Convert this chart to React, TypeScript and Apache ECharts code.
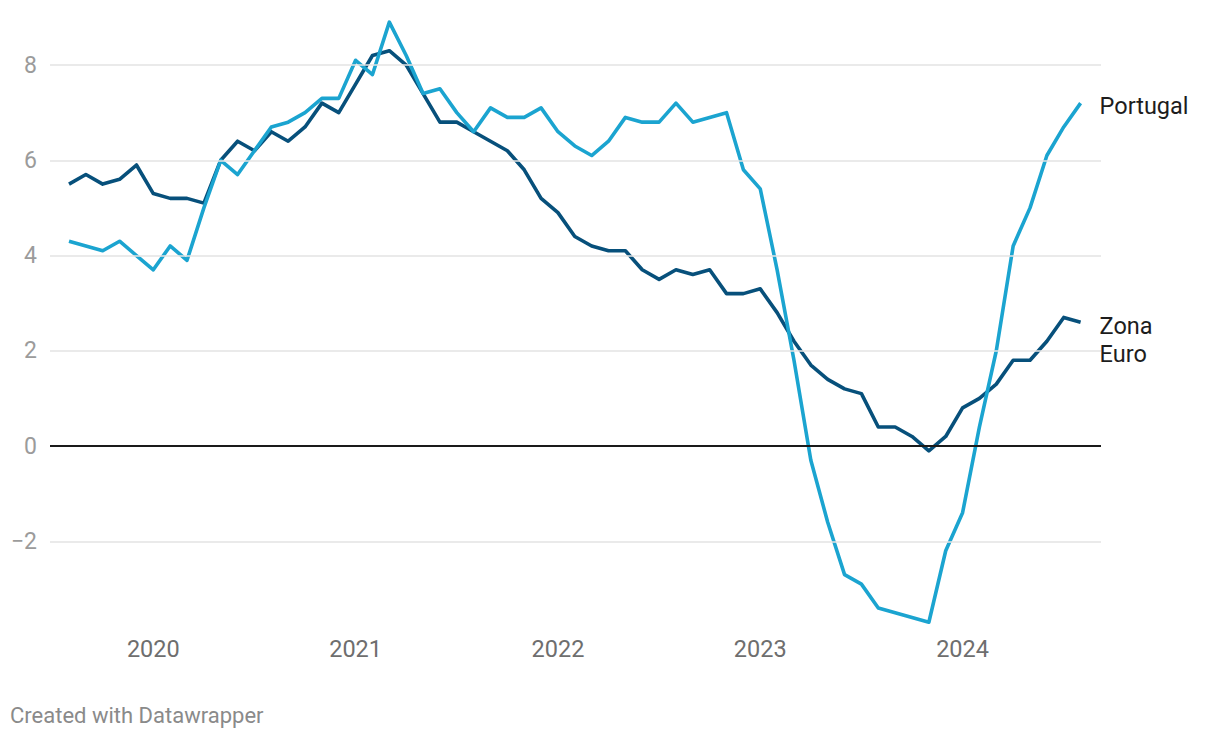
import React, { useEffect, useRef } from "react";
import * as echarts from "echarts";

// Monthly observations, Aug 2019 .. Aug 2024 (index 0 = Aug 2019)
const portugal: number[] = [
  4.3, 4.2, 4.1, 4.3, 4.0, 3.7, 4.2, 3.9, 5.0, 6.0,
  5.7, 6.2, 6.7, 6.8, 7.0, 7.3, 7.3, 8.1, 7.8, 8.9,
  8.2, 7.4, 7.5, 7.0, 6.6, 7.1, 6.9, 6.9, 7.1, 6.6,
  6.3, 6.1, 6.4, 6.9, 6.8, 6.8, 7.2, 6.8, 6.9, 7.0,
  5.8, 5.4, 3.7, 1.8, -0.3, -1.6, -2.7, -2.9, -3.4, -3.5,
  -3.6, -3.7, -2.2, -1.4, 0.4, 2.0, 4.2, 5.0, 6.1, 6.7,
  7.2,
];

const zonaEuro: number[] = [
  5.5, 5.7, 5.5, 5.6, 5.9, 5.3, 5.2, 5.2, 5.1, 6.0,
  6.4, 6.2, 6.6, 6.4, 6.7, 7.2, 7.0, 7.6, 8.2, 8.3,
  8.0, 7.4, 6.8, 6.8, 6.6, 6.4, 6.2, 5.8, 5.2, 4.9,
  4.4, 4.2, 4.1, 4.1, 3.7, 3.5, 3.7, 3.6, 3.7, 3.2,
  3.2, 3.3, 2.8, 2.2, 1.7, 1.4, 1.2, 1.1, 0.4, 0.4,
  0.2, -0.1, 0.2, 0.8, 1.0, 1.3, 1.8, 1.8, 2.2, 2.7,
  2.6,
];

const yearLabels: string[] = ["2020", "2021", "2022", "2023", "2024"];
const yearTickIndex: number[] = [5, 17, 29, 41, 53];
const yTicks: number[] = [-2, 0, 2, 4, 6, 8];
const seriesNames: string[] = ["Zona Euro", "Portugal"];

const toPairs = (arr: number[]) => arr.map((v, i) => [i, v]);

export default function App() {
  const ref = useRef<HTMLDivElement>(null);

  useEffect(() => {
    if (!ref.current) return;
    const chart = echarts.init(ref.current, undefined, { renderer: "svg" });
    const font = "Roboto, 'Noto Sans', sans-serif";
    chart.setOption({
      animation: false,
      textStyle: { fontFamily: font },
      title: {
        text: "Created with Datawrapper",
        left: 10,
        top: 704,
        padding: 0,
        textStyle: { fontFamily: font, fontSize: 22, fontWeight: "normal", color: "#8a8a8a" },
      },
      grid: { left: 50, right: 119, top: 17.4, bottom: 101.5, containLabel: false },
      xAxis: {
        type: "value",
        min: -1.127,
        max: 61.21,
        axisLine: { show: false },
        axisTick: { show: false },
        splitLine: { show: false },
        axisLabel: {
          customValues: yearTickIndex,
          formatter: (v: number) => yearLabels[yearTickIndex.indexOf(Math.round(v))] ?? "",
          color: "#6e6e6e",
          fontSize: 23.5,
          margin: 0,
          fontFamily: font,
        },
      },
      yAxis: {
        type: "value",
        min: -4,
        max: 9,
        axisLine: { show: false },
        axisTick: { show: false },
        splitLine: { show: false },
        axisLabel: {
          customValues: yTicks,
          formatter: (v: number) => (v < 0 ? "\u2212" + Math.abs(v) : String(v)),
          color: "#9b9b9b",
          fontSize: 23,
          margin: 13,
          fontFamily: font,
        },
      },
      series: [
        {
          type: "line",
          name: "grid",
          data: [],
          z: 1,
          silent: true,
          markLine: {
            silent: true,
            symbol: ["none", "none"],
            label: { show: false },
            animation: false,
            data: [
              ...yTicks.filter((t) => t !== 0).map((t) => ({
                yAxis: t,
                lineStyle: { color: "#e3e3e3", width: 1.5, type: "solid" },
              })),
              { yAxis: 0, lineStyle: { color: "#1a1a1a", width: 2, type: "solid" } },
            ],
          },
        },
        {
          type: "line",
          name: seriesNames[0],
          data: toPairs(zonaEuro),
          z: 3,
          showSymbol: false,
          symbol: "none",
          lineStyle: { color: "#07507b", width: 3.6, join: "round" },
          itemStyle: { color: "#07507b" },
          emphasis: { disabled: true },
          endLabel: {
            show: true,
            formatter: "Zona\nEuro",
            color: "#1d1d1d",
            fontSize: 23.5,
            lineHeight: 28,
            distance: 19,
            offset: [0, 18],
            fontFamily: font,
          },
        },
        {
          type: "line",
          name: seriesNames[1],
          data: toPairs(portugal),
          z: 4,
          showSymbol: false,
          symbol: "none",
          lineStyle: { color: "#1ba4d0", width: 3.6, join: "round" },
          itemStyle: { color: "#1ba4d0" },
          emphasis: { disabled: true },
          endLabel: {
            show: true,
            formatter: "Portugal",
            color: "#1d1d1d",
            fontSize: 23.5,
            distance: 19,
            offset: [0, 3],
            fontFamily: font,
          },
        },
      ],
    });
    return () => chart.dispose();
  }, []);

  return (
    <div
      ref={ref}
      style={{ position: "fixed", left: 0, top: 0, width: 1220, height: 738, background: "#fff" }}
    />
  );
}
